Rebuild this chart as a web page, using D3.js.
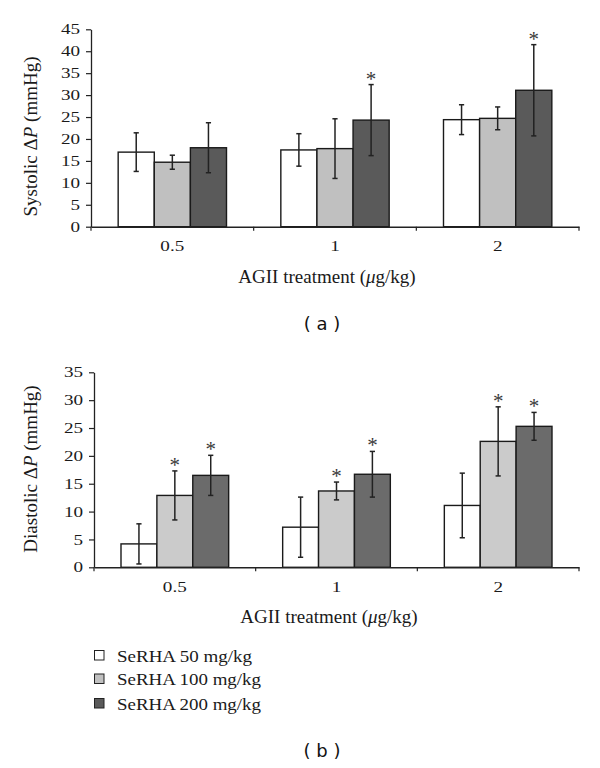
<!DOCTYPE html>
<html>
<head>
<meta charset="utf-8">
<script src="https://cdn.jsdelivr.net/npm/d3@7"></script>
<style>
  html, body { margin: 0; padding: 0; background: #fff; }
  svg { display: block; }
</style>
</head>
<body>
<svg id="chart" width="600" height="768"></svg>
<script>
// ---- data ----
const categories = ["0.5", "1", "2"];
const seriesNames = ["SeRHA 50 mg/kg", "SeRHA 100 mg/kg", "SeRHA 200 mg/kg"];

const systolicMean = [
  [17.0, 14.7, 18.0],
  [17.5, 17.8, 24.3],
  [24.4, 24.7, 31.1]
];
const systolicErr = [
  [4.4, 1.6, 5.7],
  [3.7, 6.8, 8.1],
  [3.4, 2.6, 10.4]
];
const systolicStar = [
  [false, false, false],
  [false, false, true],
  [false, false, true]
];
const systolicTicks = [0, 5, 10, 15, 20, 25, 30, 35, 40, 45];

const diastolicMean = [
  [4.2, 12.9, 16.5],
  [7.2, 13.7, 16.7],
  [11.1, 22.6, 25.3]
];
const diastolicErr = [
  [3.6, 4.4, 3.6],
  [5.4, 1.6, 4.1],
  [5.8, 6.2, 2.5]
];
const diastolicStar = [
  [false, true, true],
  [false, true, true],
  [false, true, true]
];
const diastolicTicks = [0, 5, 10, 15, 20, 25, 30, 35];

const colorsA = ["#ffffff", "#c0c0c0", "#5a5a5a"];
const colorsB = ["#ffffff", "#cbcbcb", "#6b6b6b"];

const svg = d3.select("#chart");
const serif = "'Liberation Serif', 'DejaVu Serif', serif";
const sans = "'DejaVu Sans', 'Liberation Sans', sans-serif";
const SX = 1.32; // horizontal stretch of tick label glyphs

function drawPanel(opt) {
  const g = svg.append("g");
  const x = d3.scaleBand().domain(categories).range([opt.left, opt.right]);
  const bw = x.bandwidth();
  const xs = d3.scaleBand().domain(d3.range(seriesNames.length)).range([bw * 0.167, bw * 0.833]);
  const y = d3.scaleLinear().domain([0, opt.max]).range([opt.bottom, opt.top]);

  // bars
  categories.forEach((c, ci) => {
    const gg = g.append("g").attr("transform", `translate(${x(c)},0)`);
    seriesNames.forEach((s, si) => {
      const v = opt.mean[ci][si];
      const e = opt.err[ci][si];
      const bx = xs(si);
      gg.append("rect")
        .attr("x", bx).attr("y", y(v))
        .attr("width", xs.bandwidth()).attr("height", y(0) - y(v))
        .attr("fill", opt.colors[si]).attr("stroke", "#1a1a1a").attr("stroke-width", 1.4);
      const cx = bx + xs.bandwidth() / 2;
      gg.append("line").attr("x1", cx).attr("x2", cx).attr("y1", y(v + e)).attr("y2", y(v - e))
        .attr("stroke", "#222").attr("stroke-width", 1.5);
      [v + e, v - e].forEach(t => {
        gg.append("line").attr("x1", cx - 2.6).attr("x2", cx + 2.6).attr("y1", y(t)).attr("y2", y(t))
          .attr("stroke", "#222").attr("stroke-width", 1.5);
      });
      if (opt.star[ci][si]) {
        gg.append("text").attr("x", cx).attr("y", y(v + e) + 1)
          .attr("text-anchor", "middle").attr("font-family", serif).attr("font-size", 21)
          .attr("fill", "#3a3a3a").text("*");
      }
    });
  });

  // y axis
  const yAxis = d3.axisLeft(y).tickValues(opt.ticks).tickSize(5).tickSizeOuter(0).tickPadding(6);
  const ya = g.append("g").attr("transform", `translate(${opt.left},0)`).call(yAxis);
  ya.select(".domain").attr("stroke", "#222").attr("stroke-width", 1.3);
  ya.selectAll(".tick line").attr("stroke", "#222").attr("stroke-width", 1.2);
  ya.selectAll(".tick text").attr("font-family", serif).attr("font-size", 14.5).attr("fill", "#1a1a1a")
    .attr("x", -11 / SX).attr("transform", `scale(${SX},1)`);

  // x axis
  const xa = g.append("g").attr("transform", `translate(0,${opt.bottom})`)
    .call(d3.axisBottom(x).tickSize(0).tickPadding(13));
  xa.select(".domain").attr("stroke", "#222").attr("stroke-width", 1.4);
  xa.selectAll(".tick text").attr("font-family", serif).attr("font-size", 14.5).attr("fill", "#1a1a1a")
    .attr("y", 24.5).attr("dy", 0).attr("transform", `scale(${SX},1)`);
  // boundary tick marks
  const bounds = categories.map(c => x(c)).concat([x(categories[categories.length - 1]) + bw]);
  xa.selectAll(".bnd").data(bounds).enter().append("line")
    .attr("x1", d => d).attr("x2", d => d).attr("y1", 0).attr("y2", 4)
    .attr("stroke", "#222").attr("stroke-width", 1.2);

  // axis titles
  const xt = g.append("text").attr("x", opt.xtX).attr("y", opt.bottom + 56)
    .attr("text-anchor", "middle").attr("font-family", serif).attr("font-size", 19).attr("fill", "#1a1a1a");
  xt.append("tspan").text("AGII treatment (");
  xt.append("tspan").attr("font-style", "italic").text("μ");
  xt.append("tspan").text("g/kg)");

  const yt = g.append("text")
    .attr("transform", `translate(37,${opt.ytY}) rotate(-90)`)
    .attr("text-anchor", "middle").attr("font-family", serif).attr("font-size", 19).attr("fill", "#1a1a1a");
  yt.append("tspan").text(opt.yLabel + " Δ");
  yt.append("tspan").attr("font-style", "italic").text("P");
  yt.append("tspan").text(" (mmHg)");
}

drawPanel({
  left: 91, right: 579, top: 29.3, bottom: 226.7, max: 45,
  mean: systolicMean, err: systolicErr, star: systolicStar, ticks: systolicTicks,
  colors: colorsA, yLabel: "Systolic", ytY: 136.5, xtX: 327
});

drawPanel({
  left: 94, right: 579, top: 372.3, bottom: 567.3, max: 35,
  mean: diastolicMean, err: diastolicErr, star: diastolicStar, ticks: diastolicTicks,
  colors: colorsB, yLabel: "Diastolic", ytY: 469, xtX: 329
});

// panel labels
svg.append("text").attr("x", 322).attr("y", 330).attr("text-anchor", "middle")
  .attr("font-family", sans).attr("font-size", 18).attr("fill", "#111").text("( a )");
svg.append("text").attr("x", 322).attr("y", 757).attr("text-anchor", "middle")
  .attr("font-family", sans).attr("font-size", 18).attr("fill", "#111").text("( b )");

// legend
const legendBase = [661.5, 685, 709.5];
const legendLen = [135, 144, 144];
const lg = svg.append("g");
seriesNames.forEach((s, i) => {
  lg.append("rect").attr("x", 94.5).attr("y", legendBase[i] - 11).attr("width", 9.5).attr("height", 9.5)
    .attr("fill", colorsA[i]).attr("stroke", "#222").attr("stroke-width", 1);
  lg.append("text").attr("x", 117).attr("y", legendBase[i])
    .attr("font-family", serif).attr("font-size", 17.5).attr("fill", "#1a1a1a")
    .attr("textLength", legendLen[i]).attr("lengthAdjust", "spacingAndGlyphs").text(s);
});
</script>
</body>
</html>
